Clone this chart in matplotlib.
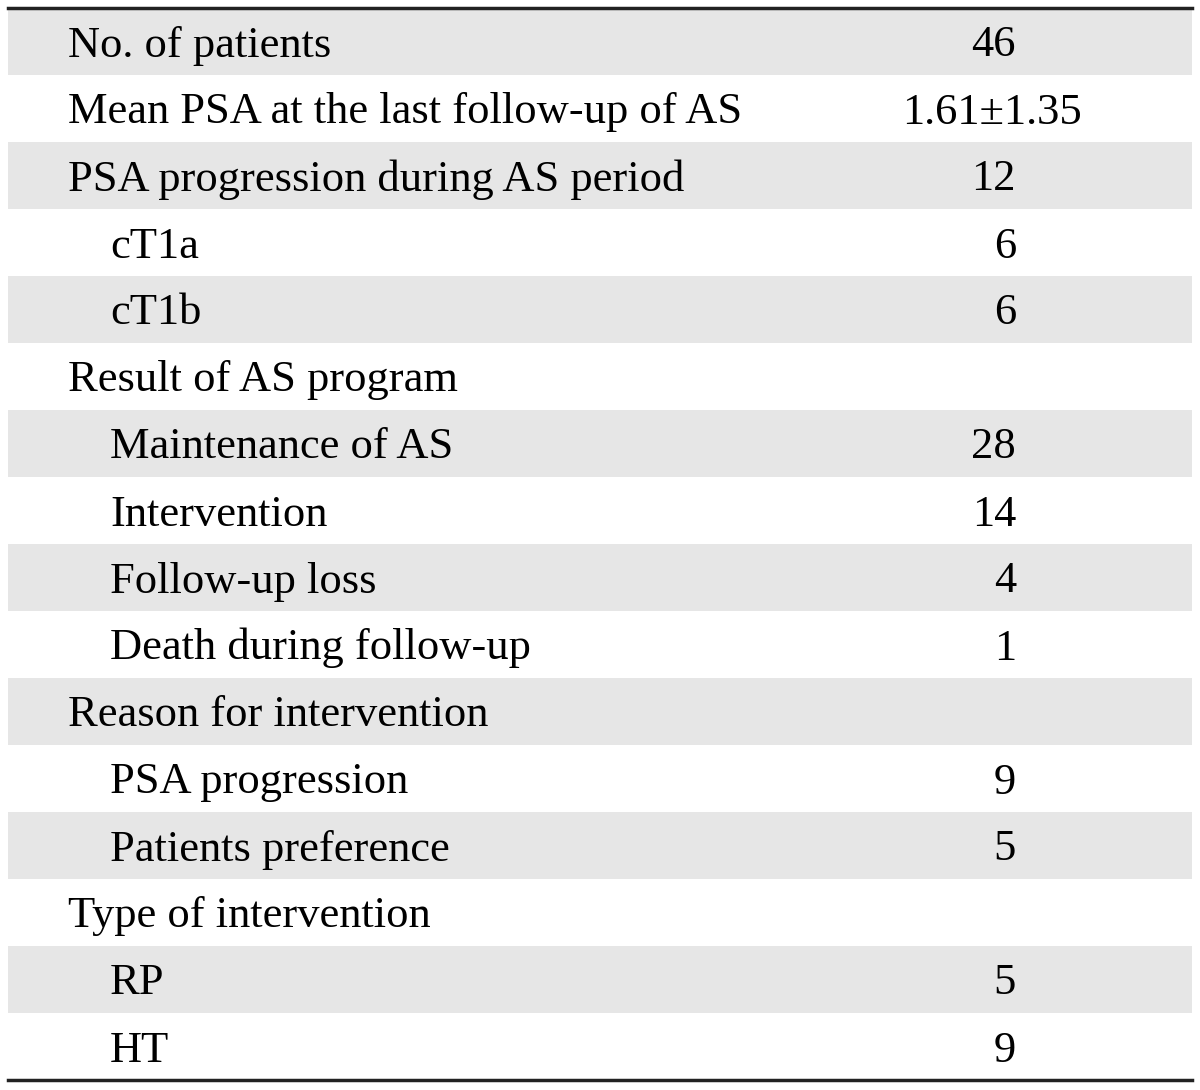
import matplotlib.pyplot as plt
from matplotlib.patches import Rectangle

labels = ["No. of patients", "Mean PSA at the last follow-up of AS",
          "PSA progression during AS period", "cT1a", "cT1b",
          "Result of AS program", "Maintenance of AS", "Intervention",
          "Follow-up loss", "Death during follow-up", "Reason for intervention",
          "PSA progression", "Patients preference", "Type of intervention",
          "RP", "HT"]
levels = [0, 0, 0, 1, 1, 0, 1, 1, 1, 1, 0, 1, 1, 0, 1, 1]
values = ["46", "1.61\u00b11.35", "12", "6", "6", "", "28", "14", "4", "1",
          "", "9", "5", "", "5", "9"]

plt.rcParams['font.family'] = ['Liberation Serif', 'DejaVu Serif']

fig = plt.figure(figsize=(12, 10.9), dpi=100)
ax = fig.add_axes([0, 0, 1, 1])
ax.set_xlim(0, 1200)
ax.set_ylim(1090, 0)
ax.axis('off')

left, right = 8, 1192
top, bottom = 8, 1080
row_h = (bottom - top) / len(labels)
fs = 32

for i, (lab, lev, val) in enumerate(zip(labels, levels, values)):
    y0 = top + i * row_h
    if i % 2 == 0:
        ax.add_patch(Rectangle((left, y0), right - left, row_h,
                               facecolor='#e6e6e6', edgecolor='none'))
    yb = y0 + row_h / 2 + 15
    ax.text(68 + 42 * lev, yb, lab, fontsize=fs, va='baseline', ha='left')
    if val:
        if '\u00b1' in val:
            ax.text(992, yb, val, fontsize=fs, va='baseline', ha='center')
        else:
            ax.text(1016, yb, val, fontsize=fs, va='baseline', ha='right')

ax.plot([left, right], [top, top], color='#222222', lw=2.5)
ax.plot([left, right], [bottom, bottom], color='#222222', lw=2.5)

fig.savefig('out.png', dpi=100, facecolor='white')
